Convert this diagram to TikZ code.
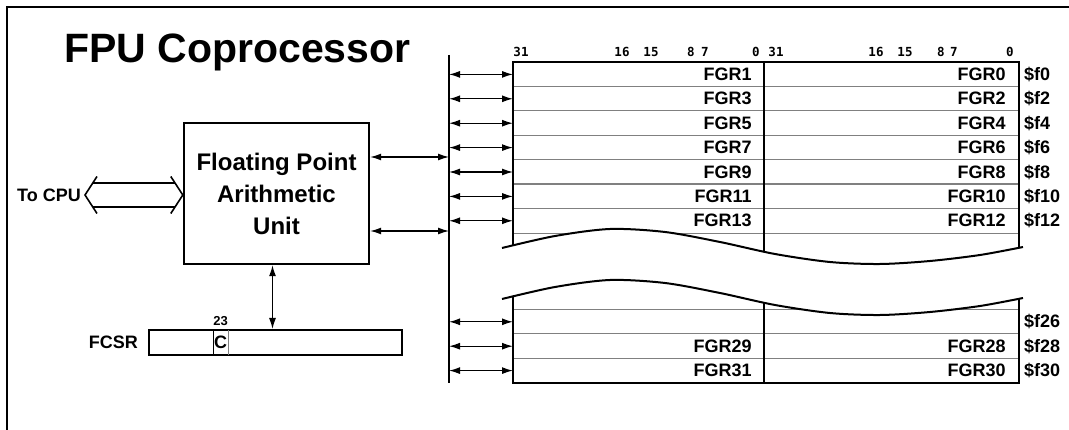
\documentclass[tikz,border=0pt]{standalone}
\usepackage{fontspec}
\setmainfont{Liberation Sans}
\newfontfamily\bitfont{DejaVu Sans Mono}
\usetikzlibrary{arrows.meta,positioning,calc}

\begin{document}
\begin{tikzpicture}[
  x=1pt,y=-1pt,
  lbl/.style={font=\fontsize{18}{20}\selectfont\bfseries,inner sep=0pt},
  unit/.style={draw,line width=2.4pt,minimum width=185pt,minimum height=141pt,align=center,
    font=\fontsize{24}{32}\selectfont\bfseries},
  hihalf/.style={anchor=north west,minimum width=251pt,minimum height=24.4pt,text width=226pt,
    inner xsep=12.5pt,inner ysep=0pt,align=right,font=\fontsize{18}{20}\selectfont\bfseries},
  lohalf/.style={minimum width=254pt,minimum height=24.4pt,text width=228pt,
    inner xsep=13pt,inner ysep=0pt,align=right,font=\fontsize{18}{20}\selectfont\bfseries},
  freg/.style={lbl,inner xsep=5pt},
  bitno/.style={font=\bitfont\fontsize{12.5}{13}\selectfont\bfseries,inner sep=0pt,anchor=base},
  arr/.style={{Latex[length=11pt,width=7pt]}-{Latex[length=11pt,width=7pt]},line width=1.3pt},
  rowline/.style={draw=gray,line width=1.3pt}
]
  \useasboundingbox (0,0) rectangle (1069,430);
  \draw[line width=2pt] (7,430) -- (7,7) -- (1069,7);

  \node[font=\fontsize{41}{44}\selectfont\bfseries,anchor=base west,inner sep=0pt] (title) at (64,63) {FPU Coprocessor};

  % arithmetic unit, CPU side and control register
  \node[unit] (fpau) at (276.5,193.5) {Floating Point\\Arithmetic\\Unit};
  \node[lbl,anchor=east,inner xsep=4pt] (tocpu) at (85,195) {To CPU};
  \node[draw,line width=2pt,minimum width=253pt,minimum height=25pt,inner sep=0pt] (fcsr) at (275.5,342.5) {};
  \node[lbl,anchor=west,minimum width=15pt,minimum height=25pt] (cbit) at (213,342.5) {C};
  \draw[line width=0.8pt] (cbit.north west) -- (cbit.south west);
  \draw[line width=0.8pt,gray] (cbit.north east) -- (cbit.south east);
  \node[font=\fontsize{13}{14}\selectfont\bfseries,inner sep=0pt,above=3.5pt of cbit] (bit23) {23};
  \node[lbl,left=10pt of fcsr] (fcsrlbl) {FCSR};

  % hollow bus to the CPU
  \coordinate (cpuL) at (tocpu.east);
  \coordinate (cpuR) at (fpau.west |- cpuL);
  \draw[line width=1.6pt]
    ($(cpuL)+(12,-18.5)$) -- (cpuL) -- ($(cpuL)+(12,18.5)$)
    ($(cpuR)+(-12,-18.5)$) -- (cpuR) -- ($(cpuR)+(-12,18.5)$)
    ($(cpuL)+(7.8,-12)$) -- ($(cpuR)+(-7.8,-12)$)
    ($(cpuL)+(7.8,12)$) -- ($(cpuR)+(-7.8,12)$);

  % internal bus
  \coordinate (bustop) at (449,55);
  \coordinate (busbot) at (449,383);
  \draw[line width=2pt] (bustop) -- (busbot);
  \coordinate (bus1) at (449,157);
  \coordinate (bus2) at (449,231);
  \draw[arr] (bus1 -| fpau.east) -- (bus1);
  \draw[arr] (bus2 -| fpau.east) -- (bus2);
  \draw[arr] ($(fpau.south)+(-4,0)$) -- ($(fpau.south |- fcsr.north)+(-4,0)$);

  % register file
  \foreach \ytop/\odd/\even/\fno [count=\k] in {62/FGR1/FGR0/0, 86.4/FGR3/FGR2/2, 110.8/FGR5/FGR4/4,
      135.2/FGR7/FGR6/6, 159.6/FGR9/FGR8/8, 184/FGR11/FGR10/10, 208.4/FGR13/FGR12/12,
      309.4/{}/{}/26, 333.8/FGR29/FGR28/28, 358.2/FGR31/FGR30/30}{
    \node[hihalf] (hi\k) at (513,\ytop) {\odd};
    \node[lohalf,right=0pt of hi\k] (lo\k) {\even};
    \node[freg,right=0pt of lo\k] (f\k) {\$f\fno};
    \draw[rowline] (hi\k.north west) -- (lo\k.north east);
    \draw[arr] (bustop |- hi\k.west) -- (hi\k.west);
  }
  \draw[rowline] (hi7.south west) -- (lo7.south east);
  \draw[line width=2.4pt] (hi1.north west) rectangle (lo10.south east);
  \draw[line width=2pt] (hi1.north east) -- (hi10.south east);

  \foreach \bx/\bn in {521/31,622/16,651/15,691/8,705/7,756/0,776/31,876/16,905/15,941/8,954/7,1010/0}
    \node[bitno] (b\bx) at (\bx,57) {\bn};

  % torn-out middle of the register file
  \fill[white] plot[smooth] coordinates {(502,248) (555,236) (610,229) (665,232) (720,242) (775,254) (830,262) (880,264) (930,261) (980,255) (1023,247)}
    -- plot[smooth] coordinates {(1023,298) (980,306) (930,312) (880,315) (830,313) (775,305) (720,293) (665,283) (610,280) (555,287) (502,299)} -- cycle;
  \draw[line width=2pt] plot[smooth] coordinates {(502,248) (555,236) (610,229) (665,232) (720,242) (775,254) (830,262) (880,264) (930,261) (980,255) (1023,247)};
  \draw[line width=2pt] plot[smooth] coordinates {(502,299) (555,287) (610,280) (665,283) (720,293) (775,305) (830,313) (880,315) (930,312) (980,306) (1023,298)};
\end{tikzpicture}
\end{document}
